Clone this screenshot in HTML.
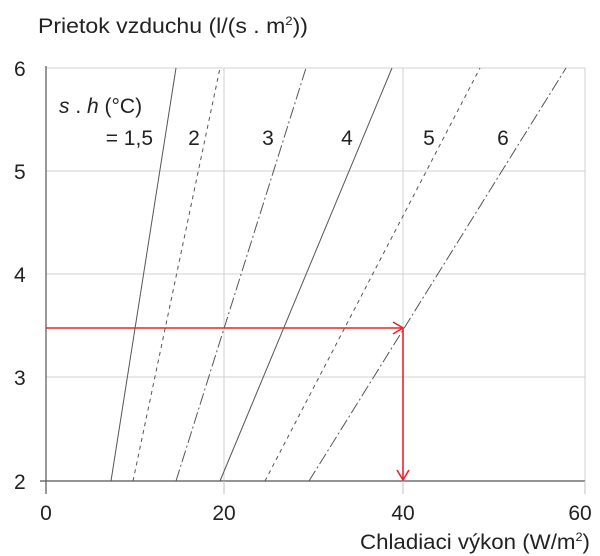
<!DOCTYPE html>
<html><head><meta charset="utf-8"><style>
html,body{margin:0;padding:0;background:#fff;}
svg{display:block;font-family:"Liberation Sans",sans-serif;}
</style></head><body>
<svg width="600" height="556" viewBox="0 0 600 556" xmlns="http://www.w3.org/2000/svg">
<g stroke="#d0d0d0" stroke-width="1">
<line x1="46" y1="68" x2="585" y2="68"/>
<line x1="46" y1="171" x2="585" y2="171"/>
<line x1="46" y1="274" x2="585" y2="274"/>
<line x1="46" y1="377" x2="585" y2="377"/>
<line x1="224" y1="68" x2="224" y2="481"/>
<line x1="403" y1="68" x2="403" y2="481"/>
<line x1="585" y1="68" x2="585" y2="481"/>
</g>
<g stroke="#555" stroke-width="1.2">
<line x1="46" y1="66" x2="46" y2="494"/>
<line x1="40" y1="481" x2="585" y2="481"/>
<line x1="224" y1="481" x2="224" y2="494" stroke="#ccc"/>
<line x1="403" y1="481" x2="403" y2="494" stroke="#ccc"/>
<line x1="585" y1="481" x2="585" y2="494" stroke="#ccc"/>
</g>
<g stroke="#555" stroke-width="1" fill="none">
<line x1="111" y1="481" x2="176" y2="68"/>
<line x1="133" y1="481" x2="220" y2="68" stroke-dasharray="4,4"/>
<line x1="176" y1="481" x2="306" y2="68" stroke-dasharray="12,3,2,3"/>
<line x1="220" y1="481" x2="392" y2="68"/>
<line x1="265" y1="481" x2="480" y2="68" stroke-dasharray="4,4"/>
<line x1="309" y1="481" x2="566" y2="68" stroke-dasharray="12,3,2,3"/>
</g>
<g stroke="#e8232a" stroke-width="1.6" fill="none">
<line x1="46" y1="328" x2="403" y2="328"/>
<polyline points="393,322 403,328 393,334"/>
<line x1="403" y1="328" x2="403" y2="480"/>
<polyline points="397,470 403,480 409,470"/>
</g>
<g fill="#222" font-size="21">
<text x="38" y="33" textLength="270" lengthAdjust="spacingAndGlyphs">Prietok  vzduchu (l/(s . m<tspan font-size="12" dy="-8">2</tspan><tspan dy="8">))</tspan></text>
<text x="14" y="76">6</text>
<text x="14" y="179">5</text>
<text x="14" y="282">4</text>
<text x="14" y="385">3</text>
<text x="14" y="489">2</text>
<text x="46" y="520" text-anchor="middle">0</text>
<text x="224" y="520" text-anchor="middle">20</text>
<text x="403" y="520" text-anchor="middle">40</text>
<text x="580" y="520" text-anchor="middle">60</text>
<text x="360" y="549" textLength="230" lengthAdjust="spacingAndGlyphs">Chladiaci výkon (W/m<tspan font-size="12" dy="-8">2</tspan><tspan dy="8">)</tspan></text>
<text x="59" y="113"><tspan font-style="italic">s</tspan> . <tspan font-style="italic">h</tspan> (°C)</text>
<text x="153" y="145" text-anchor="end">= 1,5</text>
<text x="194" y="145" text-anchor="middle">2</text>
<text x="268" y="145" text-anchor="middle">3</text>
<text x="347" y="145" text-anchor="middle">4</text>
<text x="429" y="145" text-anchor="middle">5</text>
<text x="503" y="145" text-anchor="middle">6</text>
</g>
</svg>
</body></html>
